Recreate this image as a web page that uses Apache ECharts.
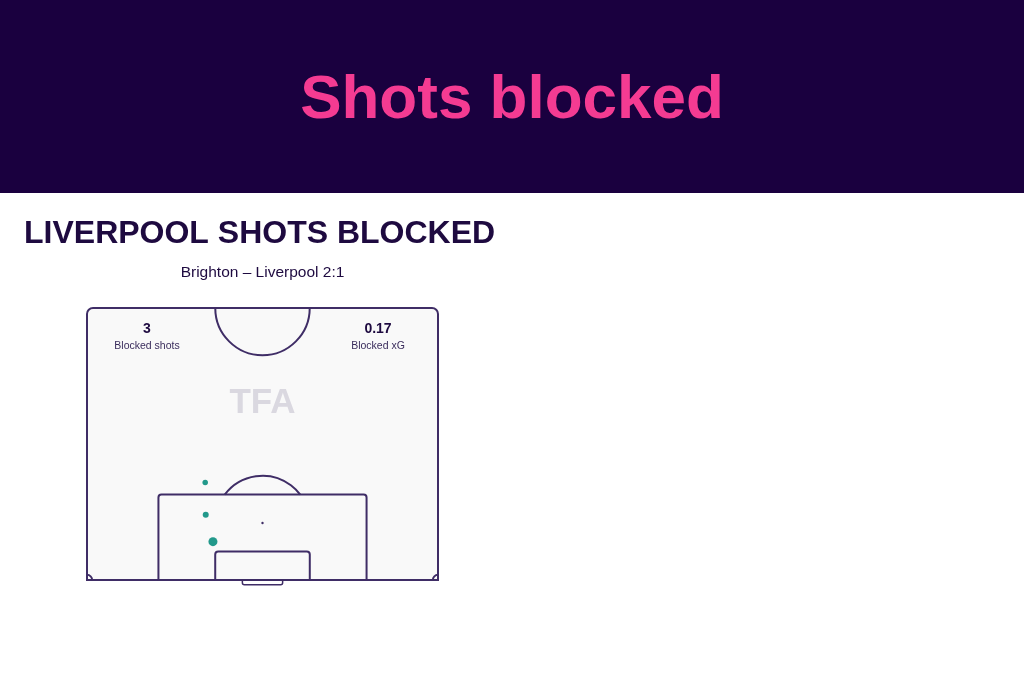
<!DOCTYPE html>
<html>
<head>
<meta charset="utf-8">
<script src="https://cdn.jsdelivr.net/npm/echarts@6/dist/echarts.min.js"></script>
<style>
html,body{margin:0;padding:0;background:#fff;}
#chart{width:1024px;height:683px;}
</style>
</head>
<body>
<div id="chart"></div>
<script>
// ---- data ----
const headerTitle = 'Shots blocked';
const chartTitle = 'LIVERPOOL SHOTS BLOCKED';
const matchLabel = 'Brighton – Liverpool 2:1';
const statValues = ['3', '0.17'];
const statLabels = ['Blocked shots', 'Blocked xG'];
// shot positions in metres: x across pitch (0-68), y = distance from goal line
const shotX = [22.9, 23.0, 24.4];
const shotY = [18.8, 12.6, 7.4];
const shotXG = [0.03, 0.04, 0.10];

// pitch geometry (metres)
const PITCH_W = 68, HALF_L = 52.5;

const NAVY = '#1a003f', PINK = '#f43b92', INK = '#1e0a40', LINE = '#3f2d66', TEAL = '#22998b';

const chart = echarts.init(document.getElementById('chart'));

function pitchRender(params, api) {
  const c = (x, y) => api.coord([x, y]);
  const sx = api.size([1, 0])[0];
  const box = (x0, y0, x1, y1, r, extra) => {
    const p0 = c(x0, y0), p1 = c(x1, y1);
    return Object.assign({
      type: 'rect',
      shape: {x: p0[0], y: p0[1], width: p1[0] - p0[0], height: p1[1] - p0[1], r: r},
      style: {fill: 'none', stroke: LINE, lineWidth: 2}
    }, extra || {});
  };
  const arc = (cx, cy, rad, a0, a1) => {
    const p = c(cx, cy);
    return {type: 'arc', shape: {cx: p[0], cy: p[1], r: rad * sx, startAngle: a0, endAngle: a1, clockwise: true},
      style: {fill: 'none', stroke: LINE, lineWidth: 2}};
  };
  const a = Math.acos(5.5 / 9.15);
  const spot = c(PITCH_W / 2, 11);
  const outer = box(0, HALF_L, PITCH_W, 0, [6, 6, 0, 0]);
  outer.style.fill = '#f9f9f9';
  return {
    type: 'group',
    children: [
      outer,
      box(PITCH_W / 2 - 20.16, 16.5, PITCH_W / 2 + 20.16, 0, [3, 3, 0, 0]),
      box(PITCH_W / 2 - 9.16, 5.5, PITCH_W / 2 + 9.16, 0, [3, 3, 0, 0]),
      {type: 'rect', shape: (function(){const p0=c(PITCH_W/2-3.9,0),p1=c(PITCH_W/2+3.9,-0.9);return {x:p0[0],y:p0[1],width:p1[0]-p0[0],height:p1[1]-p0[1],r:[0,0,2,2]};})(),
        style: {fill: 'none', stroke: LINE, lineWidth: 1.5}},
      arc(PITCH_W / 2, HALF_L, 9.15, 0, Math.PI),
      arc(PITCH_W / 2, 11, 9.15, -Math.PI / 2 - a, -Math.PI / 2 + a),
      arc(0, 0, 1, -Math.PI / 2, 0),
      arc(PITCH_W, 0, 1, Math.PI, Math.PI * 1.5),
      {type: 'circle', shape: {cx: spot[0], cy: spot[1], r: 1.2}, style: {fill: LINE}}
    ]
  };
}

const textStyle = (o) => Object.assign({fill: INK, fontFamily: 'Liberation Sans, Arial, sans-serif'}, o);

const option = {
  animation: false,
  backgroundColor: '#ffffff',
  grid: {left: 87, top: 308, width: 351, height: 272},
  xAxis: {type: 'value', min: 0, max: PITCH_W, show: false},
  yAxis: {type: 'value', min: 0, max: HALF_L, show: false},
  graphic: [
    {type: 'rect', left: 0, top: 0, shape: {width: 1024, height: 193}, style: {fill: NAVY}, z: -10},
    {type: 'text', x: 512, y: 101, style: textStyle({text: headerTitle, fill: PINK, fontSize: 62, fontWeight: 'bold',
      textAlign: 'center', textVerticalAlign: 'middle', align: 'center', verticalAlign: 'middle'})},
    {type: 'text', x: 24, y: 234, style: textStyle({text: chartTitle, fontSize: 32, fontWeight: 'bold',
      textAlign: 'left', textVerticalAlign: 'middle', align: 'left', verticalAlign: 'middle'})},
    {type: 'text', x: 262.5, y: 273, style: textStyle({text: matchLabel, fontSize: 15.5,
      textAlign: 'center', textVerticalAlign: 'middle', align: 'center', verticalAlign: 'middle'})},
    {type: 'text', x: 262.5, y: 403, z: 5, style: textStyle({text: 'TFA', fill: '#dad8e0', fontSize: 35, fontWeight: 'bold',
      textAlign: 'center', textVerticalAlign: 'middle', align: 'center', verticalAlign: 'middle'})},
    {type: 'text', x: 147, y: 329, z: 5, style: textStyle({text: statValues[0], fontSize: 14, fontWeight: 'bold',
      textAlign: 'center', textVerticalAlign: 'middle', align: 'center', verticalAlign: 'middle'})},
    {type: 'text', x: 147, y: 346, z: 5, style: textStyle({text: statLabels[0], fontSize: 10.5, fill: '#3a2c5c',
      textAlign: 'center', textVerticalAlign: 'middle', align: 'center', verticalAlign: 'middle'})},
    {type: 'text', x: 378, y: 329, z: 5, style: textStyle({text: statValues[1], fontSize: 14, fontWeight: 'bold',
      textAlign: 'center', textVerticalAlign: 'middle', align: 'center', verticalAlign: 'middle'})},
    {type: 'text', x: 378, y: 346, z: 5, style: textStyle({text: statLabels[1], fontSize: 10.5, fill: '#3a2c5c',
      textAlign: 'center', textVerticalAlign: 'middle', align: 'center', verticalAlign: 'middle'})}
  ],
  series: [
    {type: 'custom', data: [[0, 0]], renderItem: pitchRender, clip: false, silent: true, z: 1},
    {type: 'scatter', z: 10,
      data: shotX.map((x, i) => [x, shotY[i], shotXG[i]]),
      symbolSize: (v) => 4 + v[2] * 50,
      itemStyle: {color: TEAL, opacity: 1}}
  ]
};
chart.setOption(option);
</script>
</body>
</html>
